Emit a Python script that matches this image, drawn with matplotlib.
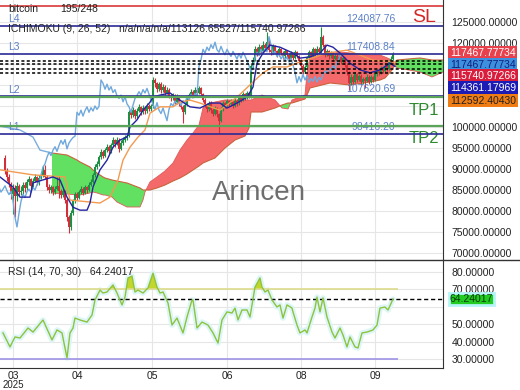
import numpy as np
import matplotlib
matplotlib.use('Agg')
import matplotlib.pyplot as plt
from matplotlib.lines import Line2D
from matplotlib.ticker import FuncFormatter

plt.rcParams['font.family'] = ['Liberation Sans', 'DejaVu Sans']

# daily bitcoin candles (thousands of USD), one per bar
first_open = 92.6
closes = [
    89.5, 88.0, 86.5, 84.0, 85.5, 83.5, 86.0, 84.5, 84.8, 86.2,
    85.4, 86.8, 87.5, 86.0, 87.2, 88.0, 86.8, 87.9, 88.6, 89.8,
    88.2, 85.8, 84.9, 85.6, 84.5, 85.2, 86.0, 84.8, 83.9, 84.7,
    82.5, 78.5, 76.2, 79.5, 82.3, 84.0, 83.2, 84.6, 85.2, 84.4,
    85.6, 85.0, 86.3, 87.0, 88.5, 90.5, 91.2, 92.8, 94.0, 93.2,
    94.5, 95.3, 94.2, 95.6, 96.8, 95.9, 97.0, 94.8, 96.2, 96.9,
    97.5, 97.8, 103.5, 102.8, 104.0, 102.6, 103.9, 104.8, 103.5, 104.6,
    103.8, 105.0, 104.2, 104.9, 111.2, 110.4, 109.0, 110.2, 108.8, 109.6,
    108.2, 108.9, 107.4, 106.8, 107.6, 106.0, 107.2, 105.5, 104.8, 103.5,
    105.2, 106.8, 107.5, 108.4, 107.6, 108.9, 108.1, 109.2, 107.8, 106.5,
    105.4, 104.2, 105.8, 104.0, 103.2, 104.5, 103.0, 101.5, 104.2, 105.6,
    105.0, 106.2, 105.4, 106.0, 105.1, 106.3, 105.6, 107.2, 106.4, 107.8,
    106.9, 108.0, 107.3, 114.5, 116.0, 118.5, 117.6, 119.0, 118.2, 119.6,
    118.7, 120.2, 118.4, 117.8, 119.2, 118.0, 117.2, 118.5, 117.6, 116.8,
    118.0, 117.1, 116.2, 117.5, 116.4, 117.8, 116.9, 115.8, 114.6, 113.2,
    114.3, 116.5, 117.8, 117.0, 118.5, 117.4, 118.6, 117.9, 121.5, 119.5,
    117.2, 118.0, 116.8, 117.5, 116.2, 117.0, 115.8, 116.7, 115.5, 116.4,
    114.8, 113.0, 110.5, 112.0, 110.8, 112.5, 111.2, 112.2, 110.6, 111.5,
    110.9, 112.0, 110.7, 111.8, 111.2, 112.6, 113.3, 112.8, 114.0, 113.4,
    114.6, 113.9, 115.4, 116.3, 117.47]
highs = [
    93.4, 90.3, 88.7, 87.0, 86.4, 86.1, 86.8, 86.5, 85.9, 86.9,
    86.8, 87.5, 88.3, 87.9, 87.8, 88.9, 88.4, 88.5, 89.4, 90.6,
    90.9, 88.6, 86.4, 86.3, 86.0, 85.9, 88.0, 88.4, 85.3, 85.2,
    85.0, 83.0, 79.0, 80.2, 82.8, 84.6, 84.5, 85.1, 85.9, 85.6,
    86.2, 86.0, 86.9, 87.6, 89.1, 91.1, 92.0, 93.4, 94.7, 94.5,
    95.1, 96.0, 95.7, 96.2, 97.5, 97.2, 97.6, 97.4, 96.8, 97.5,
    98.0, 98.4, 104.1, 104.2, 104.7, 104.4, 104.5, 105.4, 105.1, 105.2,
    105.0, 105.6, 105.4, 105.5, 111.9, 111.6, 110.8, 110.8, 110.6, 110.2,
    110.0, 109.5, 109.2, 107.9, 108.2, 107.9, 107.8, 107.5, 105.9, 105.2,
    105.7, 107.3, 108.1, 109.0, 108.8, 109.5, 109.3, 109.8, 109.5, 108.2,
    106.9, 105.8, 106.3, 106.1, 104.5, 105.0, 104.8, 103.4, 104.7, 106.1,
    106.0, 106.7, 106.5, 106.6, 106.3, 106.8, 106.6, 107.7, 107.5, 108.3,
    108.1, 108.6, 108.4, 115.0, 116.7, 119.2, 119.0, 119.8, 119.5, 120.4,
    120.0, 122.5, 120.6, 118.9, 119.7, 119.5, 118.4, 119.0, 118.9, 118.0,
    118.6, 118.4, 117.5, 118.0, 117.8, 118.3, 118.1, 117.2, 116.1, 114.9,
    114.8, 117.0, 118.4, 118.2, 119.0, 118.8, 119.2, 119.0, 123.8, 122.0,
    119.8, 118.6, 118.3, 118.0, 117.8, 117.5, 117.3, 117.2, 117.0, 116.9,
    116.7, 115.1, 113.4, 112.5, 112.4, 113.0, 112.8, 112.7, 112.5, 112.0,
    111.9, 112.5, 112.3, 112.3, 112.1, 113.1, 113.9, 113.8, 114.6, 114.4,
    115.2, 115.0, 115.9, 116.9, 117.9]
lows = [
    88.9, 87.2, 85.6, 82.8, 79.2, 78.6, 82.4, 83.6, 83.7, 84.1,
    84.6, 85.0, 86.3, 85.2, 85.6, 86.8, 86.1, 86.3, 87.5, 88.2,
    87.6, 85.1, 84.2, 84.4, 83.8, 84.0, 84.9, 83.2, 83.2, 83.4,
    82.0, 77.6, 74.8, 75.4, 79.0, 81.8, 82.6, 82.9, 84.1, 83.8,
    84.0, 84.4, 84.7, 85.9, 86.6, 88.1, 89.9, 90.8, 92.4, 92.6,
    92.9, 94.1, 93.6, 93.9, 95.2, 95.3, 95.6, 94.1, 94.5, 95.8,
    96.5, 97.0, 97.5, 102.2, 102.4, 102.0, 102.2, 103.5, 102.9, 103.1,
    103.2, 103.4, 103.7, 103.8, 104.6, 109.6, 108.4, 108.6, 108.2, 108.4,
    107.7, 107.8, 106.9, 106.1, 106.4, 105.4, 105.7, 104.9, 104.2, 100.9,
    103.1, 104.9, 106.4, 107.1, 107.1, 107.3, 107.6, 107.8, 107.2, 105.9,
    104.8, 103.6, 103.9, 103.4, 102.6, 102.9, 102.3, 98.6, 101.1, 103.9,
    104.5, 104.7, 104.9, 105.0, 104.6, 104.8, 105.1, 105.3, 105.9, 106.1,
    106.4, 106.6, 106.8, 107.0, 114.0, 115.6, 117.0, 117.2, 117.6, 117.9,
    118.1, 118.3, 117.9, 117.2, 117.4, 117.5, 116.6, 116.9, 117.1, 116.2,
    116.5, 116.6, 115.7, 115.9, 115.9, 116.1, 116.4, 115.2, 114.0, 112.5,
    112.8, 114.0, 116.2, 116.5, 116.7, 116.9, 117.1, 117.4, 117.6, 119.0,
    116.7, 116.8, 116.3, 116.4, 115.7, 115.9, 115.3, 115.5, 115.0, 115.2,
    114.2, 112.4, 108.8, 110.1, 110.2, 110.5, 110.7, 110.9, 110.0, 110.3,
    109.2, 110.6, 110.2, 110.4, 110.7, 110.9, 112.2, 112.3, 112.5, 112.9,
    113.1, 113.4, 113.6, 115.0, 116.0]

# ichimoku lines (bar index, thousands)
tenkan_x = [-2.5, 4, 7.5, 12.5, 14, 19, 24, 27.5, 31, 34, 37.5, 41, 42.5, 44,
            47.5, 51, 54, 57.5, 61, 62.5, 66, 69, 72.5, 74, 77.5, 82.5, 86, 89,
            92.5, 97.5, 102.5, 107.5, 111, 116, 121, 124, 126, 129, 132.5,
            137.5, 144, 147.5, 152.5, 157.5, 161, 164, 167.5, 172.5, 177.5,
            182.5, 187.5, 192.5, 195]
tenkan_y = [88.1, 85.7, 83.3, 83.3, 86.7, 87.4, 88.1, 87.4, 83.3, 80.9, 80.2,
            80.2, 81.9, 85.7, 89.8, 92.1, 95.2, 96.9, 97.6, 100.0, 101.7, 104.0,
            105.9, 107.1, 107.6, 108.1, 106.9, 105.9, 104.8, 104.5, 105.7,
            105.7, 104.5, 105.7, 107.1, 109.5, 115.2, 117.6, 119.5, 119.0,
            117.6, 116.4, 116.7, 117.6, 119.5, 119.0, 117.6, 115.2, 113.6,
            112.9, 113.6, 115.2, 114.4]
kijun_x = [-2.5, 14, 30, 32.5, 47.5, 52.5, 56.5, 59, 62.5, 66.5, 70, 72.5,
           77.5, 84, 87.5, 92.5, 97.5, 107.5, 116, 124, 129, 134, 141, 147.5,
           161, 171, 177.5, 184, 195]
kijun_y = [89.8, 88.6, 88.1, 82.6, 81.9, 83.3, 87.4, 92.1, 95.2, 97.6, 99.3,
           103.3, 104.8, 104.8, 105.9, 106.4, 105.7, 104.0, 107.1, 110.7,
           112.9, 114.3, 114.3, 115.5, 117.6, 118.3, 117.1, 115.9, 115.5]
head_x = [-2.5, 7.5, 14, 17.5, 23.5]
head_y = [100.2, 99.3, 97.6, 94.5, 93.8]

cloud_x = [23.5, 31, 36, 37.5, 42.5, 44, 46, 49, 50, 53.5, 56, 61, 67.5, 69,
           70, 72.5, 76, 80, 84, 87.5, 91, 94, 97, 99, 102.5, 105, 110, 115,
           120, 122, 123, 128.5, 135, 138.5, 141.5, 143.5, 150, 151, 152.5,
           162.5, 167.5, 172.5, 182.5, 187.5, 190, 193.5, 196, 207.5, 213.5, 219]
span_a = [93.81, 93.33, 92.14, 91.67, 90.48, 89.76, 89.05, 88.10, 87.86, 87.38,
          87.14, 86.67, 85.48, 85.00, 85.00, 85.00, 85.48, 86.19, 87.14, 87.86,
          88.81, 89.76, 90.71, 91.43, 92.14, 92.62, 95.00, 96.90, 97.86, 99.76,
          103.57, 103.57, 104.52, 105.24, 105.71, 105.71, 106.67, 107.62,
          109.29, 110.48, 110.24, 110.00, 110.72, 111.19, 111.67, 113.57,
          115.95, 116.43, 115.95, 115.95]
span_b = [84.29, 84.05, 83.81, 83.81, 84.29, 84.52, 84.29, 83.81, 83.81, 83.33,
          82.14, 80.95, 80.95, 82.62, 84.52, 86.91, 88.10, 89.52, 91.43, 94.52,
          96.90, 98.57, 100.48, 104.52, 105.71, 105.95, 106.43, 106.43, 106.43,
          106.43, 106.43, 107.62, 106.43, 104.52, 104.29, 106.43, 107.62,
          112.86, 116.67, 117.38, 117.86, 117.62, 117.14, 117.14, 116.67,
          115.95, 114.05, 113.10, 111.91, 113.10]

rsi_x = [-1, 2.5, 5, 7.5, 11.5, 14, 19, 23.5, 26, 28.5, 31, 32.5, 34, 35, 37.5,
         41, 43.5, 45, 47.5, 49, 51, 54, 56, 58.5, 60, 61.5, 63.5, 65, 66.5, 69,
         71.5, 74, 76, 77.5, 79, 81.5, 83.5, 86, 89, 91, 93.5, 94, 96, 98.5,
         101.5, 104, 106.5, 108.5, 111, 113.5, 115, 116.5, 118.5, 121, 122.5,
         125, 127.5, 128.5, 130, 131.5, 133.5, 136, 137.5, 139, 141, 143.5, 144,
         146, 147.5, 150, 151, 153.5, 155, 156, 157.5, 159, 161, 163.5, 165,
         167.5, 169, 171, 172.5, 175, 176.5, 178.5, 181, 184, 186, 187.5, 190,
         191.5, 194]
rsi_y = [44.9, 36.9, 42.6, 42.0, 47.7, 45.4, 52.3, 40.9, 46.6, 44.9, 30.6, 44.9,
         47.7, 53.4, 52.3, 51.1, 55.1, 63.7, 69.4, 67.7, 68.3, 72.3, 67.7, 60.9,
         65.4, 76.3, 77.4, 68.3, 69.4, 67.7, 70.6, 79.1, 71.1, 67.7, 68.3, 62.0,
         49.4, 53.4, 44.9, 54.0, 63.7, 63.7, 47.7, 51.1, 49.4, 44.9, 39.1, 52.3,
         56.9, 56.3, 59.1, 52.3, 58.0, 58.0, 54.0, 71.1, 76.3, 71.1, 68.3, 69.4,
         63.7, 59.7, 60.9, 53.4, 60.9, 59.1, 56.9, 49.4, 44.9, 46.6, 44.9, 54.0,
         59.1, 65.4, 56.9, 64.9, 54.0, 45.4, 42.0, 47.7, 43.7, 36.9, 42.6, 36.9,
         36.3, 44.9, 45.4, 46.6, 49.4, 59.1, 59.7, 58.0, 64.24]
rsi_last = 64.24017

# horizontal levels
sl_level = 128810
l_levels = [124087.76, 117408.84, 107380, 98416.20]
l_names = ['L4', 'L3', 'L2', 'L1']
l_texts = ['124087.76', '117408.84', '107620.69', '98416.20']
tp_levels = [107030, 100262.10]
tp_names = ['TP1', 'TP2']
dotted_levels = [115790, 115000, 113810, 112790]

right_boxes = ['117467.77734', '117467.77734', '115740.97266',
               '114361.17969', '112592.40430']
box_colors = ['#e8414e', '#3d8fe0', '#d81e3c', '#1c1cb4', '#f07d14']
box_text = ['white', '#10207a', 'white', 'white', '#202020']

month_pos = [4, 36, 73.5, 111, 148, 185]
month_lab = ['03', '04', '05', '06', '08', '09']
price_ticks = list(range(70000, 125001, 5000))
hidden_ticks = [105000, 110000, 115000]   # covered by the value boxes
rsi_ticks = [30, 40, 50, 60, 70, 80]

W, H = 520, 390
fig = plt.figure(figsize=(W / 100, H / 100), dpi=100)
ax = fig.add_axes([0, 130 / H, 443 / W, 260 / H])
ax2 = fig.add_axes([0, 22 / H, 443 / W, 108 / H], sharex=ax)

k = 1000.0
c = np.array(closes) * k
o = np.r_[first_open * k, c[:-1]]
hi = np.array(highs) * k
lo = np.array(lows) * k
x = np.arange(len(c))

cx = np.array(cloud_x)
sa = np.array(span_a) * k
sb = np.array(span_b) * k
ax.fill_between(cx, sa, sb, where=sa >= sb, interpolate=True,
                color='#62e062', lw=0, zorder=1)
ax.fill_between(cx, sa, sb, where=sa < sb, interpolate=True,
                color='#f46a6a', lw=0, zorder=1)
ax.plot(cx, sa, color='#c8643c', lw=0.8, zorder=1.5)
ax.plot(cx, sb, color='#e05a5a', lw=0.6, zorder=1.5)
ax.plot(head_x, np.array(head_y) * k, color='#7aaedc', lw=1, zorder=2)

up = c >= o
col = np.where(up, '#1f8f45', '#d22f3a')
ax.vlines(x, lo, hi, color=col, lw=0.8, zorder=3)
ax.bar(x, np.maximum(np.abs(c - o), 80), bottom=np.minimum(o, c),
       width=0.9, color=col, lw=0, zorder=3)

ax.plot(x - 26, c, color='#6fa8dc', lw=1, zorder=4)
ax.plot(kijun_x, np.array(kijun_y) * k, color='#f29a50', lw=1, zorder=4)
ax.plot(tenkan_x, np.array(tenkan_y) * k, color='#2424a0', lw=1, zorder=4)

# levels
ax.axhline(sl_level, color='#d62728', lw=1.1, zorder=5)
ax.annotate('SL', (219, sl_level), xytext=(-5, -2), textcoords='offset points',
            ha='right', va='top', color='#d62728', fontsize=14)
for lv, nm, tx in zip(l_levels, l_names, l_texts):
    ax.axhline(lv, color='#2a2a96', lw=1.2, zorder=5)
    ax.annotate(nm, (1.5, lv), xytext=(0, 1), textcoords='offset points',
                ha='left', va='bottom', color='#5b80c8', fontsize=7.5)
    ax.annotate(tx, (195, lv), xytext=(0, 1.5), textcoords='offset points',
                ha='right', va='bottom', color='#5b80c8', fontsize=7.5)
for lv, nm in zip(tp_levels, tp_names):
    ax.axhline(lv, color='#5aa55a', lw=1.6, zorder=5)
    ax.annotate(nm, (219, lv), xytext=(-3, -4), textcoords='offset points',
                ha='right', va='top', color='#2e8b2e', fontsize=12)
for lv in dotted_levels:
    ax.axhline(lv, color='black', lw=1.1, ls=(0, (2, 1.5)), zorder=5)

ax.set_xlim(-2.5, 219)
ax.set_ylim(130238 - 238.1 * 260, 130238)
ax.yaxis.tick_right()
ax.set_yticks(price_ticks)
ax.yaxis.set_major_formatter(
    FuncFormatter(lambda v, p: '' if round(v) in hidden_ticks else f'{v:.5f}'))
ax.tick_params(axis='y', length=0, pad=6, labelsize=7.5, labelcolor='#222222')
ax.tick_params(axis='x', length=0, labelbottom=False)
ax.set_xticks(month_pos)
ax.grid(True, color='#e6e6e6', lw=0.8)
ax.set_axisbelow(True)
for s in ['left', 'top', 'bottom']:
    ax.spines[s].set_visible(False)
ax.spines['right'].set_color('#333333')

# RSI panel
rx = np.array(rsi_x)
ry = np.array(rsi_y)
ax2.plot(rx, ry, color='#dcf6f8', lw=4, solid_capstyle='round', zorder=1)
ax2.fill_between(rx, ry, 70, where=ry > 70, interpolate=True,
                 color='#c3d62c', lw=0, zorder=2)
ax2.hlines(70, -2.5, 196.5, color='#dcdc8a', lw=1.2, zorder=2)
ax2.hlines(30, -2.5, 196.5, color='#9d93e6', lw=1.2, zorder=2)
ax2.axhline(rsi_last, color='black', lw=1, ls=(0, (3, 2)), zorder=3)
ax2.plot(rx, ry, color='#8fc23c', lw=1.0, zorder=4)
ax2.set_ylim(70 - 79 / 1.75, 70 + 29 / 1.75)
ax2.yaxis.tick_right()
ax2.set_yticks(rsi_ticks)
ax2.yaxis.set_major_formatter(
    FuncFormatter(lambda v, p: '' if v == 60 else f'{v:.5f}'))
ax2.tick_params(axis='y', length=0, pad=6, labelsize=7.5, labelcolor='#222222')
ax2.set_xticks(month_pos)
ax2.set_xticklabels(month_lab)
ax2.tick_params(axis='x', length=0, pad=2, labelsize=7.5, labelcolor='#222222')
ax2.grid(True, color='#e6e6e6', lw=0.8)
ax2.set_axisbelow(True)
for s in ['left', 'top']:
    ax2.spines[s].set_visible(False)
ax2.spines['right'].set_color('#333333')
ax2.spines['bottom'].set_color('#333333')

fig.add_artist(Line2D([0, 1], [130 / H, 130 / H], color='#333333', lw=1))


def fx(px):
    return px / W


def fy(py):
    return 1 - py / H


fig.text(fx(8), fy(9), 'bitcoin', fontsize=7.5, va='center', color='#222222')
fig.text(fx(60), fy(9), '195/248', fontsize=7.5, va='center', color='#222222')
fig.text(fx(8), fy(29), 'ICHIMOKU (9, 26, 52)   n/a/n/a/n/a/113126.65527/115740.97266',
         fontsize=7.5, va='center', color='#222222')
fig.text(fx(8), fy(272), 'RSI (14, 70, 30)   64.24017', fontsize=7.5,
         va='center', color='#222222')
fig.text(fx(13), fy(385.5), '2025', fontsize=7, ha='center', va='center',
         color='#222222')
fig.text(fx(259), fy(193), 'Arincen', fontsize=20, ha='center', va='center',
         color='#6e6e6e')

box_y = [53, 64.5, 76, 88, 100.5]
for t, fc, tc, yy in zip(right_boxes, box_colors, box_text, box_y):
    fig.text(fx(450), fy(yy), t, fontsize=7.5, va='center', color=tc,
             bbox=dict(boxstyle='square,pad=0.16', fc=fc, ec='none'))
fig.text(fx(450), fy(299), f'{rsi_last:.5f}', fontsize=7.5, va='center',
         color='#0b3d0b',
         bbox=dict(boxstyle='square,pad=0.1', fc='#22cc22', ec='#b6f4f8', lw=2))

fig.savefig('out.png', dpi=100, facecolor='white')
